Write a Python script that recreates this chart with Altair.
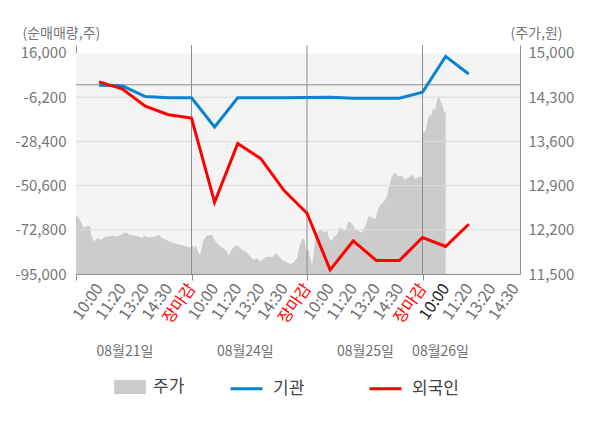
import altair as alt
import pandas as pd

FONT = "Noto Sans CJK KR"

# ---- data ----
time_labels = ["10:00", "11:20", "13:20", "14:30", "장마감"]
dates = ["08월21일", "08월24일", "08월25일", "08월26일"]
date_slot = [2.12, 7.33, 12.53, 15.78]
day_bounds = [5, 10, 15]
X_MAX = 19.22

slots = list(range(1, 18))
inst = [-200, -500, -5900, -6550, -6550,
        -21200, -6550, -6500, -6500, -6400,
        -6200, -6700, -6700, -6700, -3700,
        14300, 5450]
foreign = [1500, -2050, -10700, -15000, -16700,
           -59000, -29500, -37100, -53000, -64500,
           -92900, -78400, -88200, -88200, -76700,
           -81200, -70000]

price_slot = [0.00, 0.13, 0.27, 0.35, 0.42, 0.52, 0.61, 0.66, 0.78, 0.92,
              1.07, 1.21, 1.36, 1.65, 1.79, 1.94, 2.15, 2.30, 2.51, 2.73,
              2.87, 2.95, 3.09, 3.38, 3.60, 3.74, 3.89, 4.03, 4.25, 4.54,
              4.82, 4.97,
              5.00, 5.11, 5.19, 5.30, 5.37, 5.45, 5.52, 5.67, 5.88, 5.95,
              6.10, 6.24, 6.38, 6.53, 6.60, 6.72, 6.89, 7.04, 7.18, 7.33,
              7.47, 7.69, 7.83, 7.98, 8.12, 8.27, 8.41, 8.55, 8.63, 8.77,
              8.92, 9.13, 9.28, 9.42, 9.57, 9.67, 9.81, 9.90, 9.97,
              10.07, 10.14, 10.22, 10.29, 10.39, 10.50, 10.58, 10.72, 10.87, 10.94,
              11.08, 11.15, 11.30, 11.40, 11.52, 11.66, 11.80, 11.95, 12.09, 12.24,
              12.38, 12.53, 12.67, 12.82, 12.96, 13.08, 13.18, 13.32, 13.47, 13.54,
              13.65, 13.80, 13.94, 14.09, 14.23, 14.40, 14.58, 14.69, 14.84, 14.99,
              15.01, 15.13, 15.23, 15.30, 15.39, 15.45, 15.53, 15.65, 15.72, 15.78,
              15.88, 15.94, 16.00]
price = [12423, 12386, 12280, 12227, 12253, 12264, 12253, 12120, 12014, 12068,
         12041, 12078, 12094, 12110, 12094, 12120, 12163, 12120, 12105, 12094,
         12068, 12105, 12080, 12086, 12120, 12068, 12041, 12014, 11988, 11962,
         11935, 11920,
         11988, 11910, 11950, 11830, 11803, 11935, 12041, 12105, 12120, 12068,
         11988, 11935, 11910, 11856, 11792, 11882, 11950, 11935, 11882, 11856,
         11803, 11723, 11750, 11696, 11740, 11776, 11765, 11776, 11830, 11790,
         11723, 11685, 11660, 11685, 11750, 11935, 12068, 12040, 11882,
         11882, 11750, 11632, 11830, 12120, 12170, 12208, 12160, 12190, 12077,
         12023, 12077, 12130, 12235, 12215, 12180, 12339, 12290, 12208, 12180,
         12155, 12260, 12418, 12395, 12366, 12524, 12600, 12639, 12734, 12867,
         13025, 13113, 13040, 13060, 13000, 13025, 13077, 13000, 13040, 13040,
         13736, 13760, 13946, 14025, 14000, 14131, 14080, 14284, 14320, 14230,
         14150, 14050, 14080]

left_ticks = [16000, -6200, -28400, -50600, -72800, -95000]
right_ticks = [15000, 14300, 13600, 12900, 12200, 11500]
L_DOMAIN = [-95000, 20000]
R_DOMAIN = [11500, 11500 + (L_DOMAIN[1] - L_DOMAIN[0]) * 3500 / 111000]

series_names = ["기관", "외국인"]
series_colors = ["#0a84d0", "#ff0000"]
price_name = "주가"

# ---- tables ----
df_lines = pd.DataFrame({
    "slot": slots * 2,
    "value": inst + foreign,
    "series": [series_names[0]] * len(slots) + [series_names[1]] * len(slots),
})
df_price = pd.DataFrame({"slot": price_slot, "price": price, "name": price_name})
df_grid = pd.DataFrame({"v": [t for t in left_ticks if t not in (16000, -95000)]})
df_days = pd.DataFrame({"slot": day_bounds})
df_dates = pd.DataFrame({"date": dates, "slot": date_slot})
df_one = pd.DataFrame({"a": [0]})

AX = "#8c8c8c"
xs = alt.Scale(domain=[0, X_MAX], nice=False, zero=False)
yl = alt.Scale(domain=L_DOMAIN, nice=False, zero=False)
yr = alt.Scale(domain=R_DOMAIN, nice=False, zero=False)

lbl_list = "[" + ",".join("'%s'" % t for t in time_labels) + "]"
x_axis = alt.Axis(
    orient="bottom", values=list(range(0, 20)), title=None, grid=False,
    labelExpr="datum.value == 0 ? '' : %s[(datum.value - 1) %% 5]" % lbl_list,
    labelAngle=-55, labelAlign="right", labelBaseline="middle",
    labelFont=FONT, labelFontSize=16, labelPadding=5, labelOverlap=False,
    labelBound=False, labelFlush=False,
    labelColor={"condition": [{"test": "datum.value > 0 && datum.value % 5 === 0", "value": "#ff0000"},
                              {"test": "datum.value === 16", "value": "#222222"}],
                "value": "#707070"},
    tickSize=6,
    tickColor={"condition": {"test": "datum.value % 5 === 0", "value": AX}, "value": "transparent"},
    domainColor=AX,
)
left_axis = alt.Axis(
    orient="left", values=left_ticks, grid=False, ticks=False,
    labelExpr="replace(format(datum.value, ','), '\u2212', '-')",
    labelFont=FONT, labelFontSize=15, labelColor="#777777", labelPadding=10,
    domainColor=AX,
    title="(순매매량,주)", titleAngle=0, titleX=-54, titleY=-12,
    titleAlign="left", titleBaseline="middle", titleFont=FONT,
    titleFontSize=14, titleFontWeight="normal", titleColor="#777777",
)
right_axis = alt.Axis(
    orient="right", values=right_ticks, grid=False, ticks=False, format=",d",
    labelFont=FONT, labelFontSize=15, labelColor="#777777", labelPadding=8,
    domainColor=AX,
    title="(주가,원)", titleAngle=0, titleX=-10, titleY=-12,
    titleAlign="left", titleBaseline="middle", titleFont=FONT,
    titleFontSize=14, titleFontWeight="normal", titleColor="#777777",
)

bg = alt.Chart(df_one).mark_rect(color="#f4f4f4").encode(
    x=alt.X(datum=0, scale=xs, axis=x_axis), x2=alt.X2(datum=X_MAX),
    y=alt.Y(datum=right_ticks[0], scale=yr, axis=right_axis), y2=alt.Y2(datum=right_ticks[-1]),
)
area = alt.Chart(df_price).mark_area(interpolate="linear").encode(
    x=alt.X("slot:Q", scale=xs, axis=x_axis),
    y=alt.Y("price:Q", scale=yr, axis=right_axis),
    y2=alt.Y2(datum=right_ticks[-1]),
    fill=alt.Fill("name:N", scale=alt.Scale(domain=[price_name], range=["#cccccc"]),
                  legend=alt.Legend(orient="none", legendX=38, legendY=326, direction="horizontal",
                                    title=None, symbolType="M-1,-0.45H1V0.45H-1Z", symbolSize=1000,
                                    symbolStrokeWidth=0, symbolOpacity=1, labelFont=FONT,
                                    labelFontSize=17, labelColor="#444444", labelOffset=7)),
)
right_group = alt.layer(bg, area)

hgrid = alt.Chart(df_grid).mark_rule(color="#dcdcdc", strokeWidth=1).encode(
    y=alt.Y("v:Q", scale=yl, axis=left_axis))
zero = alt.Chart(df_one).mark_rule(color=AX, strokeWidth=1).encode(
    y=alt.Y(datum=0, scale=yl, axis=left_axis))
vrules = alt.Chart(df_days).mark_rule(color=AX, strokeWidth=1).encode(
    x=alt.X("slot:Q", scale=xs, axis=x_axis))
lines = alt.Chart(df_lines).mark_line(strokeWidth=3).encode(
    x=alt.X("slot:Q", scale=xs, axis=x_axis),
    y=alt.Y("value:Q", scale=yl, axis=left_axis),
    stroke=alt.Stroke("series:N", scale=alt.Scale(domain=series_names, range=series_colors),
                      legend=alt.Legend(orient="none", legendX=153, legendY=326, direction="horizontal",
                                        title=None, symbolType="stroke", symbolSize=1024,
                                        symbolStrokeWidth=3, columnPadding=58, labelFont=FONT,
                                        labelFontSize=17, labelColor="#444444", labelOffset=9)),
)
date_text = alt.Chart(df_dates).mark_text(font=FONT, fontSize=14, color="#707070").encode(
    x=alt.X("slot:Q", scale=xs, axis=x_axis),
    y=alt.value(307),
    text="date:N",
)
left_group = alt.layer(hgrid, zero, vrules, lines, date_text)

chart = alt.layer(right_group, left_group).resolve_scale(y="independent").properties(
    width=444, height=229,
    autosize=alt.AutoSizeParams(type="none"),
    padding={"left": 68, "top": 37, "right": 72, "bottom": 146},
).configure_view(stroke=None)

chart.save("out.html", embed_options={"renderer": "svg", "actions": False})
